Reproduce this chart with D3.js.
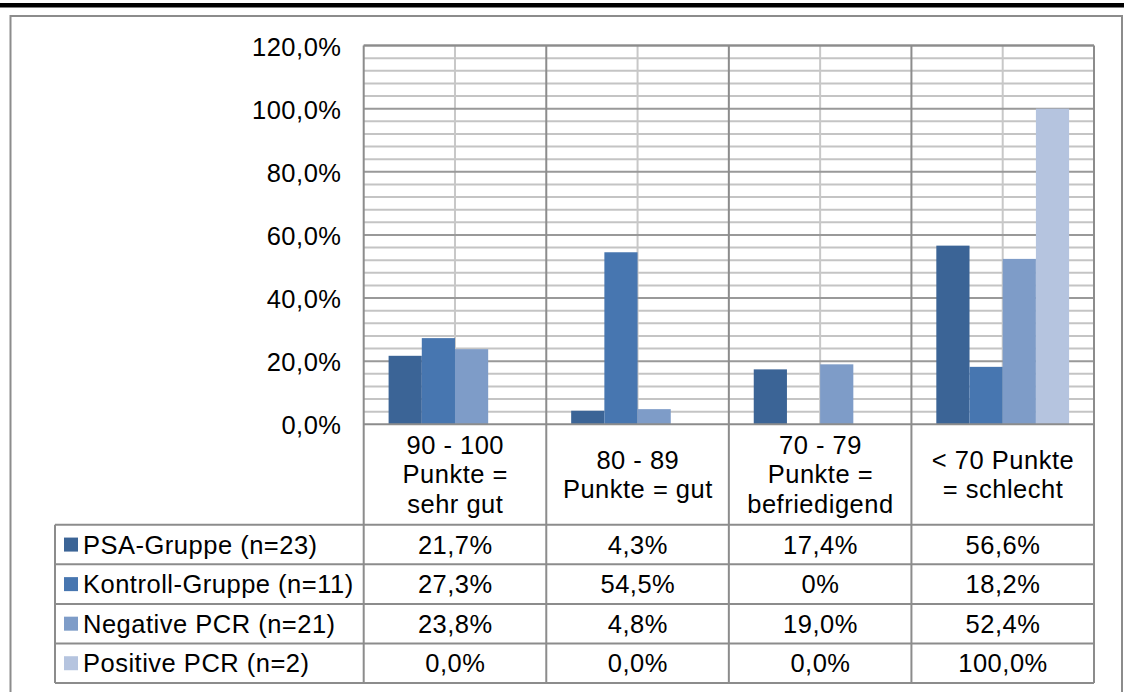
<!DOCTYPE html>
<html>
<head>
<meta charset="utf-8">
<script src="https://cdn.jsdelivr.net/npm/d3@7"></script>
<style>
  html, body { margin: 0; padding: 0; background: #fff; }
  svg { display: block; }
  text { font-family: "Liberation Sans", Arial, sans-serif; fill: #000; }
</style>
</head>
<body>
<svg id="chart" width="1124" height="692"></svg>
<script>
// ---------- data ----------
const categories = ["90 - 100 Punkte = sehr gut", "80 - 89 Punkte = gut", "70 - 79 Punkte = befriedigend", "< 70 Punkte = schlecht"];
const categoryLines = [["90 - 100", "Punkte =", "sehr gut"], ["80 - 89", "Punkte = gut"], ["70 - 79", "Punkte =", "befriedigend"], ["< 70 Punkte", "= schlecht"]];
const seriesNames = ["PSA-Gruppe (n=23)", "Kontroll-Gruppe (n=11)", "Negative PCR (n=21)", "Positive PCR (n=2)"];
const psaValues = [21.7, 4.3, 17.4, 56.6];
const kontrollValues = [27.3, 54.5, 0, 18.2];
const negativeValues = [23.8, 4.8, 19.0, 52.4];
const positiveValues = [0, 0, 0, 100];
const psaLabels = ["21,7%", "4,3%", "17,4%", "56,6%"];
const kontrollLabels = ["27,3%", "54,5%", "0%", "18,2%"];
const negativeLabels = ["23,8%", "4,8%", "19,0%", "52,4%"];
const positiveLabels = ["0,0%", "0,0%", "0,0%", "100,0%"];
const yTicks = [0, 20, 40, 60, 80, 100, 120];
const yTickLabels = ["0,0%", "20,0%", "40,0%", "60,0%", "80,0%", "100,0%", "120,0%"];
const colors = ["#3b6496", "#4776b0", "#7e9cc8", "#b5c4df"];

const seriesValues = [psaValues, kontrollValues, negativeValues, positiveValues];
const seriesLabels = [psaLabels, kontrollLabels, negativeLabels, positiveLabels];

// ---------- layout ----------
const svg = d3.select("#chart");
const plotL = 363.7, plotR = 1094, plotT = 45.5, plotB = 424.3;
const tableL = 55, headerB = 524.8, tableB = 683;
const FS = 25.5, LS = "0.5px";

const x0 = d3.scaleBand().domain(categories).range([plotL, plotR]).padding(0);
const x1 = d3.scaleBand().domain(seriesNames).range([0, x0.bandwidth()]).paddingInner(0).paddingOuter(0.75);
const y = d3.scaleLinear().domain([0, 120]).range([plotB, plotT]);
const rowY = d3.scaleBand().domain(seriesNames).range([headerB, tableB]);
const color = d3.scaleOrdinal().domain(seriesNames).range(colors);

// page decorations
svg.append("rect").attr("x", 0).attr("y", 3).attr("width", 1124).attr("height", 4.5).attr("fill", "#000");
svg.append("rect").attr("x", 10.5).attr("y", 16).attr("width", 1111.5).attr("height", 700)
  .attr("fill", "#fff").attr("stroke", "#8c8c8c").attr("stroke-width", 2);

// minor horizontal gridlines (every 4%)
const minorTicks = d3.range(0, 121, 4).filter(v => v % 20 !== 0);
svg.append("g").selectAll("line").data(minorTicks).join("line")
  .attr("x1", plotL).attr("x2", plotR)
  .attr("y1", d => y(d)).attr("y2", d => y(d))
  .attr("stroke", "#c4c4c4").attr("stroke-width", 2);

// minor vertical gridlines at category centres
svg.append("g").selectAll("line").data(categories).join("line")
  .attr("x1", d => x0(d) + x0.bandwidth() / 2).attr("x2", d => x0(d) + x0.bandwidth() / 2)
  .attr("y1", plotT).attr("y2", plotB)
  .attr("stroke", "#c8c8c8").attr("stroke-width", 2);

// major horizontal gridlines
svg.append("g").selectAll("line").data(yTicks.filter(v => v > 0)).join("line")
  .attr("x1", plotL).attr("x2", plotR)
  .attr("y1", d => y(d)).attr("y2", d => y(d))
  .attr("stroke", "#999").attr("stroke-width", 2);

// major vertical lines at category boundaries (plot area + header row)
const bounds = categories.map(c => x0(c)).concat([plotR]);
svg.append("g").selectAll("line").data(bounds).join("line")
  .attr("x1", d => d).attr("x2", d => d)
  .attr("y1", plotT).attr("y2", tableB)
  .attr("stroke", "#8c8c8c").attr("stroke-width", 2);

// bars
const groups = svg.append("g").selectAll("g").data(categories).join("g")
  .attr("transform", d => `translate(${x0(d)},0)`);
groups.selectAll("rect")
  .data((c, ci) => seriesNames.map((s, si) => ({ s, v: seriesValues[si][ci] })))
  .join("rect")
  .attr("x", d => x1(d.s)).attr("width", x1.bandwidth())
  .attr("y", d => y(d.v)).attr("height", d => y(0) - y(d.v))
  .attr("fill", d => color(d.s));

// plot top border
svg.append("line").attr("x1", plotL).attr("x2", plotR).attr("y1", plotT).attr("y2", plotT)
  .attr("stroke", "#8c8c8c").attr("stroke-width", 2);
// zero line / table top
svg.append("line").attr("x1", plotL).attr("x2", plotR).attr("y1", plotB).attr("y2", plotB)
  .attr("stroke", "#8c8c8c").attr("stroke-width", 2);

// y axis labels
const fmtAxis = d3.axisLeft(y).tickValues(yTicks).tickSize(0).tickPadding(0)
  .tickFormat((d, i) => yTickLabels[i]);
const ax = svg.append("g").attr("transform", `translate(${341.5},1.5)`).call(fmtAxis);
ax.select(".domain").remove();
ax.selectAll("text").attr("font-size", FS).style("letter-spacing", LS)
  .attr("font-family", "Liberation Sans, Arial, sans-serif").attr("fill", "#000");

// category header text
const lh = 29.5;
const headerMid = (plotB + headerB) / 2;
categories.forEach((c, ci) => {
  const lines = categoryLines[ci];
  const cx = x0(c) + x0.bandwidth() / 2;
  const t = svg.append("text").attr("text-anchor", "middle").attr("font-size", FS).style("letter-spacing", LS);
  lines.forEach((ln, li) => {
    const yy = headerMid + (li - (lines.length - 1) / 2) * lh + FS * 0.35;
    t.append("tspan").attr("x", cx + 0.3).attr("y", yy).text(ln);
  });
});

// table rows
const rowsG = svg.append("g");
const hLines = seriesNames.map(s => rowY(s)).concat([tableB]);
rowsG.selectAll("line.h").data(hLines).join("line").attr("class", "h")
  .attr("x1", tableL).attr("x2", plotR).attr("y1", d => d).attr("y2", d => d)
  .attr("stroke", "#8c8c8c").attr("stroke-width", 2);
rowsG.append("line").attr("x1", tableL).attr("x2", tableL).attr("y1", headerB).attr("y2", tableB)
  .attr("stroke", "#8c8c8c").attr("stroke-width", 2);

seriesNames.forEach((s, si) => {
  const cy = rowY(s) + rowY.bandwidth() / 2;
  rowsG.append("rect").attr("x", 64).attr("y", cy - 7).attr("width", 14).attr("height", 14).attr("fill", color(s));
  rowsG.append("text").attr("x", 83).attr("y", cy + FS * 0.35).attr("font-size", FS).style("letter-spacing", LS).text(s);
  categories.forEach((c, ci) => {
    rowsG.append("text").attr("text-anchor", "middle")
      .attr("x", x0(c) + x0.bandwidth() / 2 + 0.3).attr("y", cy + FS * 0.35)
      .attr("font-size", FS).style("letter-spacing", LS)
      .text(seriesLabels[si][ci]);
  });
});
</script>
</body>
</html>
